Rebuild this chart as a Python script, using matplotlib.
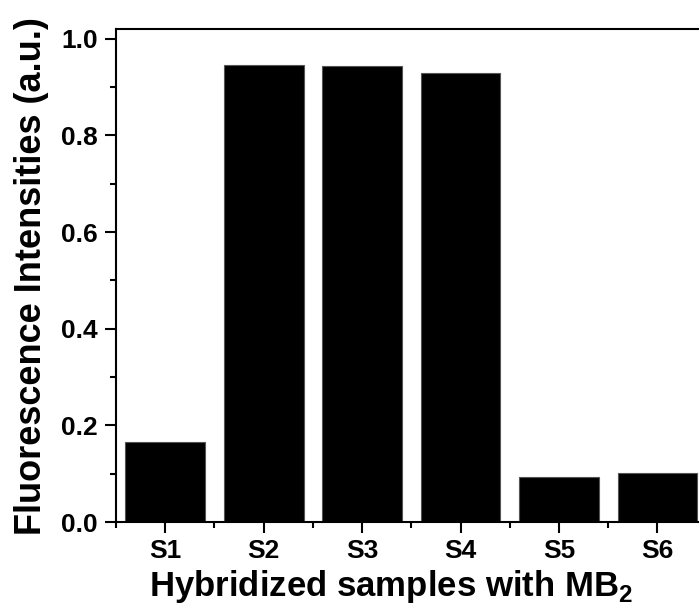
import numpy as np
import matplotlib
matplotlib.use('Agg')
import matplotlib.pyplot as plt
from matplotlib.ticker import MultipleLocator, FixedLocator

# ================== ДАННЫЕ ==================
samples = ['S1', 'S2', 'S3', 'S4', 'S5', 'S6']
intensity = [0.166, 0.945, 0.944, 0.929, 0.093, 0.102]

plt.rcParams['font.family'] = ['Liberation Sans', 'DejaVu Sans']
plt.rcParams['font.weight'] = 'bold'
plt.rcParams['mathtext.default'] = 'bf'

fig = plt.figure(figsize=(6.99, 6.07), dpi=100)
ax = fig.add_axes([0.166, 0.140, 0.845, 0.812])

x = np.arange(1, len(samples) + 1)
ax.bar(x, intensity, width=0.81, color='black', edgecolor='#555555', linewidth=0.8)

ax.set_xlim(0.5, 6.5)
ax.set_ylim(0, 1.02)

ax.set_xticks(x)
ax.set_xticklabels(samples)
ax.xaxis.set_minor_locator(FixedLocator(np.arange(0.5, 7, 1.0)))
ax.yaxis.set_major_locator(MultipleLocator(0.2))
ax.yaxis.set_minor_locator(MultipleLocator(0.1))
ax.yaxis.set_major_formatter(plt.FormatStrFormatter('%.1f'))

ax.tick_params(axis='both', which='major', direction='out', length=8, width=1.5,
               labelsize=19)
ax.tick_params(axis='x', which='major', pad=4)
ax.tick_params(axis='y', which='major', pad=5)
ax.tick_params(axis='both', which='minor', direction='out', length=4, width=1.5)
ax.tick_params(top=False, right=False, which='both')
for lbl in ax.get_xticklabels() + ax.get_yticklabels():
    lbl.set_fontweight('bold')

for s in ax.spines.values():
    s.set_linewidth(1.5)

ax.set_xlabel('Hybridized samples with MB$_\\mathregular{2}$', fontsize=25,
              fontweight='bold')
ax.xaxis.set_label_coords(0.466, -0.094, transform=ax.transAxes)
ax.set_ylabel('Fluorescence Intensities (a.u.)', fontsize=26,
              fontweight='bold', labelpad=9)

fig.savefig('out.png', dpi=100)
